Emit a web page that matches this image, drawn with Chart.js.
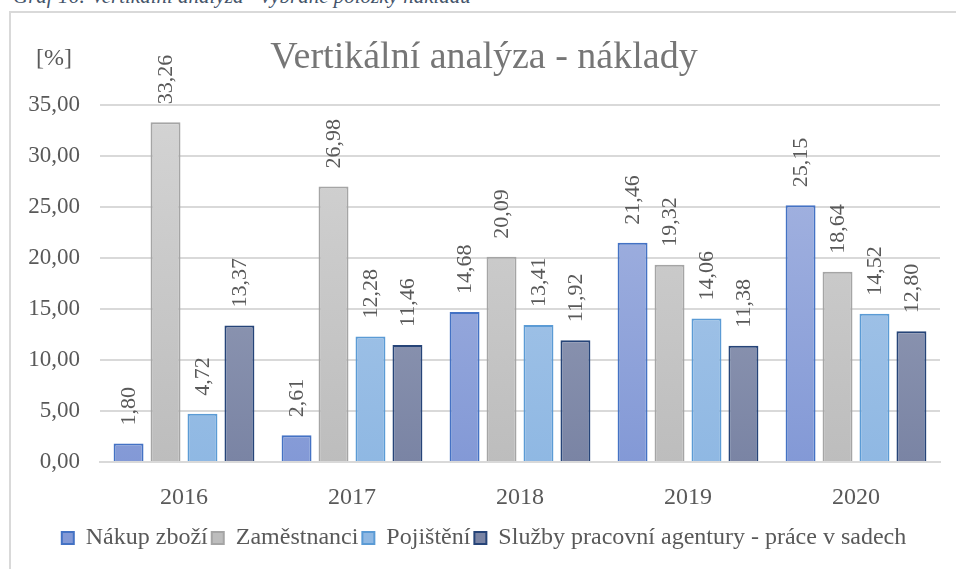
<!DOCTYPE html>
<html>
<head>
<meta charset="utf-8">
<script src="https://cdn.jsdelivr.net/npm/chart.js@4.4.1/dist/chart.umd.min.js"></script>
<style>
    html, body { margin: 0; padding: 0; background: #fff; overflow: hidden; }
    #wrap { position: relative; width: 956px; height: 569px; }
    #chart { position: absolute; left: 0; top: 0; }
    #frame {
        position: absolute; left: 9px; top: 11px; width: 1000px; height: 1000px;
        border: 2px solid #d9d9d9; box-sizing: border-box; pointer-events: none;
    }
    #caption {
        position: absolute; left: 13px; top: -14px; white-space: nowrap;
        font: italic 21px 'Liberation Serif', 'Times New Roman', serif;
        line-height: 21px; color: #44546a;
    }
</style>
</head>
<body>
<div id="wrap">
    <div id="caption">Graf 16: Vertikální analýza - vybrané položky nákladů</div>
    <div id="frame"></div>
    <canvas id="chart" width="956" height="569"></canvas>
</div>
<script>
// Data
const years = ['2016', '2017', '2018', '2019', '2020'];
const seriesNames = ['Nákup zboží', 'Zaměstnanci', 'Pojištění', 'Služby pracovní agentury - práce v sadech'];
const nakupZbozi = [1.80, 2.61, 14.68, 21.46, 25.15];
const zamestnanci = [33.26, 26.98, 20.09, 19.32, 18.64];
const pojisteni = [4.72, 12.28, 13.41, 14.06, 14.52];
const sluzbyAgentury = [13.37, 11.46, 11.92, 11.38, 12.80];
const yTicks = [0, 5, 10, 15, 20, 25, 30, 35];

const serif = "'Liberation Serif', 'Times New Roman', serif";
const textGray = '#595959';

// [top colour, bottom colour, border]
const palette = [
    ['#aab8e2', '#8399d6', '#4472c4'],
    ['#d4d4d4', '#bdbdbd', '#a5a5a5'],
    ['#b0cbea', '#8fb8e3', '#5b9bd5'],
    ['#a0a8c0', '#7a84a4', '#264478']
];

function fmt(v) {
    return v.toFixed(2).replace('.', ',');
}

function gradientFor(idx) {
    return function(context) {
        const chart = context.chart;
        const area = chart.chartArea;
        if (!area) return palette[idx][1];
        const g = chart.ctx.createLinearGradient(0, area.top, 0, area.bottom);
        g.addColorStop(0, palette[idx][0]);
        g.addColorStop(1, palette[idx][1]);
        return g;
    };
}

// Rotated value labels above each bar, plus the "[%]" unit label
const barLabels = {
    id: 'barLabels',
    afterDatasetsDraw(chart) {
        const ctx = chart.ctx;
        ctx.save();
        ctx.fillStyle = textGray;
        ctx.font = '22px ' + serif;
        chart.data.datasets.forEach((ds, i) => {
            const meta = chart.getDatasetMeta(i);
            meta.data.forEach((bar, j) => {
                ctx.save();
                ctx.translate(bar.x, bar.y - 18);
                ctx.rotate(-Math.PI / 2);
                ctx.textAlign = 'left';
                ctx.textBaseline = 'middle';
                ctx.fillText(fmt(ds.data[j]), 0, 1);
                ctx.restore();
            });
        });
        ctx.font = '24px ' + serif;
        ctx.textAlign = 'left';
        ctx.textBaseline = 'alphabetic';
        ctx.fillText('[%]', 36, 65);
        ctx.restore();
    }
};

document.addEventListener('DOMContentLoaded', function() {
    const data = [nakupZbozi, zamestnanci, pojisteni, sluzbyAgentury];
    const datasets = seriesNames.map((name, i) => ({
        label: name,
        data: data[i],
        backgroundColor: gradientFor(i),
        borderColor: palette[i][2],
        borderWidth: 2,
        borderSkipped: 'bottom',
        categoryPercentage: 0.88,
        barPercentage: 0.81
    }));

    new Chart(document.getElementById('chart'), {
        type: 'bar',
        data: { labels: years, datasets: datasets },
        options: {
            responsive: false,
            animation: false,
            layout: { padding: { top: 35, left: 28, right: 16, bottom: 9 } },
            plugins: {
                title: {
                    display: true,
                    text: 'Vertikální analýza - náklady',
                    color: '#767676',
                    font: { family: serif, size: 38, weight: 'normal' },
                    padding: { top: 0, bottom: 24 }
                },
                legend: {
                    position: 'bottom',
                    labels: {
                        color: textGray,
                        font: { family: serif, size: 24 },
                        boxWidth: 12,
                        boxHeight: 12,
                        padding: 4,
                        generateLabels(chart) {
                            return chart.data.datasets.map((ds, i) => ({
                                text: ds.label,
                                fillStyle: palette[i][1],
                                strokeStyle: palette[i][2],
                                lineWidth: 2,
                                fontColor: textGray,
                                datasetIndex: i
                            }));
                        }
                    }
                },
                tooltip: { enabled: false }
            },
            scales: {
                x: {
                    grid: { display: false },
                    border: { color: '#d9d9d9', width: 2 },
                    afterFit(scale) { scale.height = 60; },
                    ticks: {
                        color: textGray,
                        font: { family: serif, size: 24 },
                        padding: 13
                    }
                },
                y: {
                    min: 0,
                    max: 35,
                    afterBuildTicks(axis) {
                        axis.ticks = yTicks.map(v => ({ value: v }));
                    },
                    afterFit(scale) { scale.width = 72; },
                    grid: { color: '#d9d9d9', lineWidth: 2, drawTicks: false },
                    border: { display: false },
                    ticks: {
                        color: textGray,
                        font: { family: serif, size: 23 },
                        padding: 20,
                        callback: v => fmt(v)
                    }
                }
            }
        },
        plugins: [barLabels]
    });
});
</script>
</body>
</html>
